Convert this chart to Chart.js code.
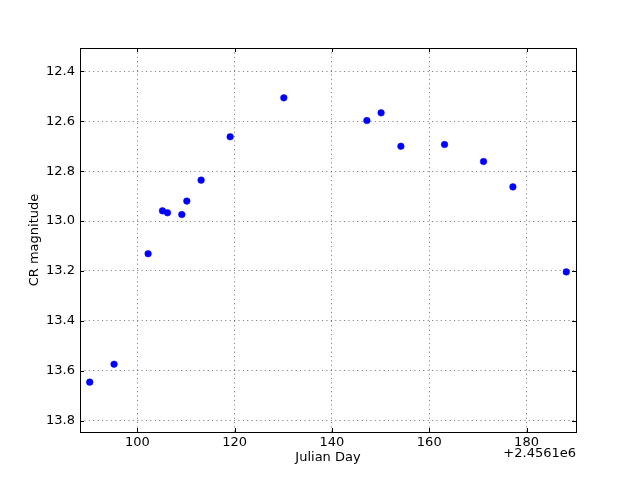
<!DOCTYPE html>
<html>
<head>
<meta charset="utf-8">
<script src="https://cdn.jsdelivr.net/npm/chart.js@4/dist/chart.umd.min.js"></script>
<style>
html,body{margin:0;padding:0;background:#fff;}
canvas{display:block;}
</style>
</head>
<body>
<canvas id="c" width="640" height="480"></canvas>
<script>
// Julian Day minus 2456100
const julianDay = [90.2, 95.2, 102.2, 105.15, 106.18, 109.13, 110.16, 113.1, 119.07, 130.1, 147.18, 150.1, 154.17, 163.14, 171.16, 177.2, 188.17];
const crMagnitude = [13.646, 13.574, 13.131, 12.959, 12.967, 12.974, 12.92, 12.836, 12.662, 12.506, 12.597, 12.566, 12.70, 12.693, 12.761, 12.863, 13.204];
const xTicks = [100, 120, 140, 160, 180];
const yTicks = [12.4, 12.6, 12.8, 13.0, 13.2, 13.4, 13.6, 13.8];
const xOffsetText = '+2.4561e6';
const xTitle = 'Julian Day';
const yTitle = 'CR magnitude';

const FONT = "'DejaVu Sans', sans-serif";
const points = julianDay.map((x, i) => ({x: x, y: crMagnitude[i]}));

const frame = {
  id: 'frame',
  afterDraw(chart) {
    const {ctx, chartArea: a, scales} = chart;
    ctx.save();
    ctx.strokeStyle = '#000';
    ctx.lineWidth = 1;
    ctx.beginPath();
    // inward ticks
    xTicks.forEach(v => {
      const px = Math.round(scales.x.getPixelForValue(v)) + 0.5;
      ctx.moveTo(px, a.bottom); ctx.lineTo(px, a.bottom - 4);
      ctx.moveTo(px, a.top); ctx.lineTo(px, a.top + 4);
    });
    yTicks.forEach(v => {
      const py = Math.round(scales.y.getPixelForValue(v)) + 0.5;
      ctx.moveTo(a.left, py); ctx.lineTo(a.left + 4, py);
      ctx.moveTo(a.right, py); ctx.lineTo(a.right - 4, py);
    });
    ctx.stroke();
    ctx.strokeRect(Math.round(a.left) + 0.5, Math.round(a.top) + 0.5, Math.round(a.right - a.left), Math.round(a.bottom - a.top));
    ctx.fillStyle = '#000';
    ctx.font = '13px ' + FONT;
    ctx.textAlign = 'right';
    ctx.textBaseline = 'alphabetic';
    ctx.fillText(xOffsetText, a.right, 457);
    ctx.restore();
  }
};

const gridOpts = {
  color: 'rgba(0,0,0,0.5)',
  lineWidth: 1,
  drawTicks: false
};

new Chart(document.getElementById('c'), {
  type: 'scatter',
  data: {
    datasets: [{
      data: points,
      backgroundColor: '#0000ff',
      borderColor: '#0000ff',
      borderWidth: 0.5,
      pointRadius: 3.3,
      pointHoverRadius: 3.3
    }]
  },
  options: {
    responsive: false,
    animation: false,
    devicePixelRatio: 1,
    layout: {padding: {top: 48, right: 64, left: 0, bottom: 0}},
    plugins: {legend: {display: false}, tooltip: {enabled: false}},
    scales: {
      x: {
        type: 'linear',
        min: Math.min(...julianDay) - 2,
        max: Math.max(...julianDay) + 2,
        afterBuildTicks: s => { s.ticks = xTicks.map(v => ({value: v})); },
        afterFit: s => { s.height = 48; },
        grid: gridOpts,
        border: {display: false, dash: [1.1, 3.3]},
        ticks: {color: '#000', font: {family: FONT, size: 13}, padding: 3, maxRotation: 0, autoSkip: false,
          callback: v => String(v)},
        title: {display: true, text: xTitle, color: '#000', font: {family: FONT, size: 13}, padding: {top: 0, bottom: 15}}
      },
      y: {
        type: 'linear',
        reverse: true,
        min: Math.min(...crMagnitude) - 0.2,
        max: Math.max(...crMagnitude) + 0.2,
        afterBuildTicks: s => { s.ticks = yTicks.map(v => ({value: v})); },
        afterFit: s => { s.width = 80; },
        grid: gridOpts,
        border: {display: false, dash: [1.1, 3.3]},
        ticks: {color: '#000', font: {family: FONT, size: 13}, padding: 5, autoSkip: false,
          callback: v => v.toFixed(1)},
        title: {display: true, text: yTitle, color: '#000', font: {family: FONT, size: 13}, padding: {top: 27, bottom: 0}}
      }
    }
  },
  plugins: [frame]
});
</script>
</body>
</html>
